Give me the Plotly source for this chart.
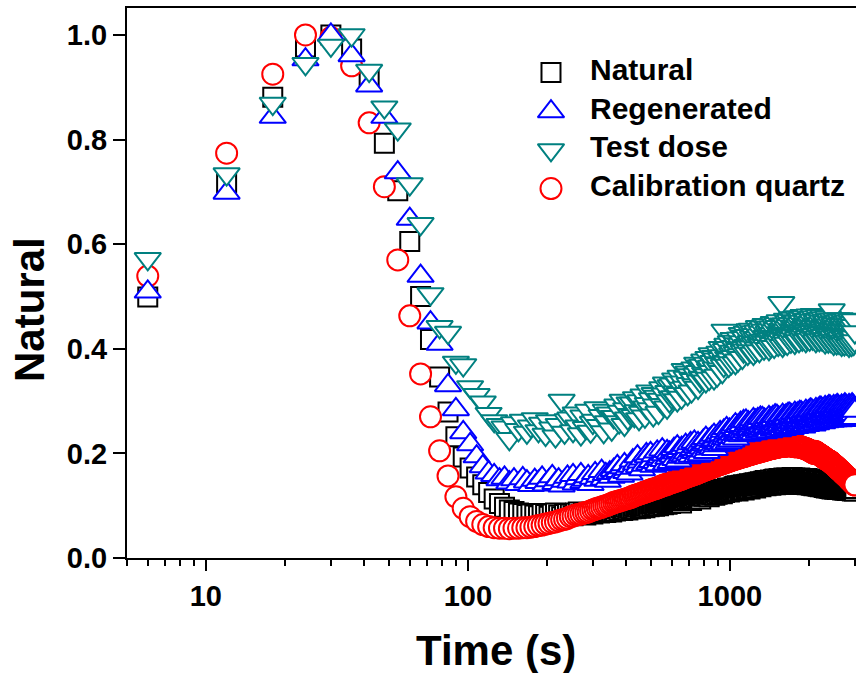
import plotly.graph_objects as go

# Normalised luminescence decay curves, one channel every 6 s
CHANNEL_S = 6

natural = [
    0.499, 0.718, 0.881, 0.977, 1.000, 0.973, 0.916, 0.793, 0.702, 0.605,
    0.500, 0.418, 0.346, 0.279, 0.232, 0.193, 0.172, 0.155, 0.140, 0.125,
    0.113, 0.104, 0.097, 0.092, 0.089, 0.086, 0.085, 0.083, 0.084, 0.082,
    0.081, 0.085, 0.083, 0.080, 0.084, 0.086, 0.082, 0.079, 0.083, 0.085,
    0.084, 0.081, 0.086, 0.088, 0.083, 0.085, 0.082, 0.087, 0.086, 0.084,
    0.088, 0.091, 0.086, 0.089, 0.092, 0.087, 0.090, 0.093, 0.088, 0.091,
    0.090, 0.094, 0.092, 0.096, 0.091, 0.093, 0.097, 0.092, 0.095, 0.094,
    0.096, 0.099, 0.094, 0.098, 0.101, 0.095, 0.097, 0.100, 0.096, 0.099,
    0.102, 0.098, 0.103, 0.100, 0.104, 0.099, 0.102, 0.105, 0.100, 0.103,
    0.104, 0.107, 0.102, 0.106, 0.109, 0.103, 0.105, 0.108, 0.104, 0.107,
    0.108, 0.111, 0.106, 0.110, 0.113, 0.107, 0.109, 0.112, 0.105, 0.110,
    0.114, 0.110, 0.115, 0.112, 0.117, 0.111, 0.113, 0.116, 0.110, 0.114,
    0.118, 0.114, 0.119, 0.116, 0.121, 0.115, 0.117, 0.120, 0.113, 0.118,
    0.120, 0.124, 0.118, 0.122, 0.125, 0.119, 0.121, 0.126, 0.117, 0.122,
    0.125, 0.121, 0.127, 0.123, 0.128, 0.120, 0.124, 0.127, 0.122, 0.126,
    0.128, 0.124, 0.130, 0.126, 0.131, 0.123, 0.127, 0.130, 0.125, 0.129,
    0.131, 0.127, 0.133, 0.129, 0.134, 0.126, 0.130, 0.133, 0.128, 0.132,
    0.134, 0.129, 0.136, 0.131, 0.137, 0.130, 0.133, 0.138, 0.128, 0.134,
    0.136, 0.131, 0.138, 0.133, 0.139, 0.132, 0.135, 0.140, 0.130, 0.136,
    0.138, 0.133, 0.140, 0.135, 0.141, 0.134, 0.137, 0.142, 0.132, 0.138,
    0.140, 0.135, 0.142, 0.137, 0.143, 0.136, 0.139, 0.144, 0.134, 0.140,
    0.142, 0.137, 0.144, 0.139, 0.145, 0.138, 0.141, 0.146, 0.136, 0.142,
    0.144, 0.139, 0.146, 0.141, 0.147, 0.140, 0.143, 0.148, 0.138, 0.144,
    0.145, 0.140, 0.147, 0.142, 0.148, 0.141, 0.144, 0.149, 0.139, 0.145,
    0.146, 0.141, 0.148, 0.143, 0.150, 0.142, 0.145, 0.151, 0.140, 0.146,
    0.147, 0.142, 0.149, 0.144, 0.151, 0.143, 0.146, 0.152, 0.141, 0.147,
    0.148, 0.143, 0.150, 0.145, 0.152, 0.144, 0.147, 0.153, 0.142, 0.148,
    0.146, 0.150, 0.143, 0.148, 0.153, 0.145, 0.149, 0.142, 0.151, 0.147,
    0.148, 0.143, 0.151, 0.146, 0.152, 0.144, 0.147, 0.154, 0.141, 0.149,
    0.146, 0.150, 0.143, 0.148, 0.153, 0.144, 0.149, 0.142, 0.151, 0.147,
    0.148, 0.142, 0.150, 0.145, 0.152, 0.143, 0.147, 0.153, 0.141, 0.148,
    0.145, 0.149, 0.142, 0.147, 0.152, 0.143, 0.148, 0.141, 0.150, 0.146,
    0.147, 0.141, 0.149, 0.144, 0.151, 0.142, 0.146, 0.152, 0.140, 0.147,
    0.144, 0.148, 0.141, 0.146, 0.151, 0.142, 0.147, 0.140, 0.149, 0.145,
    0.145, 0.139, 0.147, 0.142, 0.149, 0.140, 0.144, 0.150, 0.138, 0.145,
    0.142, 0.146, 0.139, 0.144, 0.149, 0.140, 0.145, 0.138, 0.147, 0.143,
    0.143, 0.137, 0.145, 0.140, 0.147, 0.138, 0.142, 0.148, 0.136, 0.143,
    0.140, 0.144, 0.137, 0.142, 0.147, 0.138, 0.143, 0.136, 0.145, 0.141,
    0.141, 0.135, 0.143, 0.138, 0.145, 0.136, 0.140, 0.146, 0.134, 0.141,
    0.138, 0.142, 0.135, 0.140, 0.145, 0.136, 0.141, 0.134, 0.143, 0.139,
    0.139, 0.133, 0.141, 0.136, 0.143, 0.134, 0.138, 0.144, 0.132, 0.139,
    0.136, 0.140, 0.133, 0.138, 0.143, 0.134, 0.139, 0.132, 0.141, 0.137,
    0.138, 0.132, 0.140, 0.135, 0.142, 0.133, 0.137, 0.143, 0.131, 0.138,
    0.135, 0.139, 0.132, 0.137, 0.142, 0.133, 0.138, 0.131, 0.140, 0.136,
    0.137, 0.131, 0.139, 0.134, 0.141, 0.132, 0.136, 0.142, 0.130, 0.137,
    0.134, 0.138, 0.131, 0.136, 0.141, 0.132, 0.137, 0.130, 0.139, 0.135,
    0.136, 0.130, 0.138, 0.133, 0.140, 0.131, 0.135, 0.141, 0.129, 0.136,
    0.133, 0.137, 0.130, 0.135, 0.140, 0.131, 0.136, 0.129, 0.138, 0.134,
    0.135, 0.129, 0.137, 0.132, 0.139, 0.130, 0.134, 0.140, 0.128, 0.135,
    0.132, 0.136, 0.129, 0.134, 0.139, 0.130, 0.135, 0.128, 0.137, 0.133,
]

regenerated = [
    0.509, 0.698, 0.843, 0.953, 1.000, 0.961, 0.903, 0.843, 0.737, 0.648,
    0.539, 0.450, 0.409, 0.330, 0.284, 0.240, 0.217, 0.194, 0.175, 0.163,
    0.158, 0.150, 0.153, 0.144, 0.150, 0.141, 0.152, 0.146, 0.139, 0.149,
    0.145, 0.153, 0.140, 0.148, 0.156, 0.143, 0.150, 0.138, 0.147, 0.155,
    0.146, 0.158, 0.142, 0.152, 0.160, 0.145, 0.149, 0.156, 0.141, 0.153,
    0.162, 0.149, 0.157, 0.166, 0.151, 0.160, 0.147, 0.163, 0.155, 0.168,
    0.162, 0.175, 0.166, 0.157, 0.173, 0.179, 0.164, 0.170, 0.161, 0.176,
    0.186, 0.172, 0.180, 0.194, 0.175, 0.184, 0.169, 0.190, 0.178, 0.198,
    0.194, 0.180, 0.200, 0.185, 0.176, 0.196, 0.183, 0.203, 0.179, 0.189,
    0.193, 0.207, 0.187, 0.198, 0.180, 0.204, 0.191, 0.201, 0.183, 0.197,
    0.195, 0.208, 0.189, 0.201, 0.213, 0.186, 0.204, 0.193, 0.210, 0.197,
    0.210, 0.196, 0.216, 0.201, 0.192, 0.212, 0.199, 0.219, 0.195, 0.205,
    0.208, 0.222, 0.202, 0.213, 0.195, 0.219, 0.206, 0.216, 0.198, 0.212,
    0.211, 0.224, 0.205, 0.217, 0.229, 0.202, 0.220, 0.209, 0.226, 0.213,
    0.217, 0.230, 0.211, 0.223, 0.235, 0.208, 0.226, 0.215, 0.232, 0.219,
    0.234, 0.220, 0.240, 0.225, 0.216, 0.236, 0.223, 0.243, 0.219, 0.229,
    0.234, 0.248, 0.228, 0.239, 0.221, 0.245, 0.232, 0.242, 0.224, 0.238,
    0.237, 0.250, 0.231, 0.243, 0.255, 0.228, 0.246, 0.235, 0.252, 0.239,
    0.252, 0.238, 0.258, 0.243, 0.234, 0.254, 0.241, 0.261, 0.237, 0.247,
    0.248, 0.262, 0.242, 0.253, 0.235, 0.259, 0.246, 0.256, 0.238, 0.252,
    0.247, 0.260, 0.241, 0.253, 0.265, 0.238, 0.256, 0.245, 0.262, 0.249,
    0.259, 0.245, 0.265, 0.250, 0.241, 0.261, 0.248, 0.268, 0.244, 0.254,
    0.253, 0.267, 0.247, 0.258, 0.240, 0.264, 0.251, 0.261, 0.243, 0.257,
    0.251, 0.264, 0.245, 0.257, 0.269, 0.242, 0.260, 0.249, 0.266, 0.253,
    0.263, 0.249, 0.269, 0.254, 0.245, 0.265, 0.252, 0.272, 0.248, 0.258,
    0.257, 0.271, 0.251, 0.262, 0.244, 0.268, 0.255, 0.265, 0.247, 0.261,
    0.255, 0.268, 0.249, 0.261, 0.273, 0.246, 0.264, 0.253, 0.270, 0.257,
    0.266, 0.252, 0.272, 0.257, 0.248, 0.268, 0.255, 0.275, 0.251, 0.261,
    0.261, 0.275, 0.255, 0.266, 0.248, 0.272, 0.259, 0.269, 0.251, 0.265,
    0.259, 0.272, 0.253, 0.265, 0.277, 0.250, 0.268, 0.257, 0.274, 0.261,
    0.270, 0.256, 0.276, 0.261, 0.252, 0.272, 0.259, 0.279, 0.255, 0.265,
    0.264, 0.278, 0.258, 0.269, 0.251, 0.275, 0.262, 0.272, 0.254, 0.268,
    0.263, 0.276, 0.257, 0.269, 0.281, 0.254, 0.272, 0.261, 0.278, 0.265,
    0.274, 0.260, 0.280, 0.265, 0.256, 0.276, 0.263, 0.283, 0.259, 0.269,
    0.268, 0.282, 0.262, 0.273, 0.255, 0.279, 0.266, 0.276, 0.258, 0.272,
    0.266, 0.279, 0.260, 0.272, 0.284, 0.257, 0.275, 0.264, 0.281, 0.268,
    0.278, 0.264, 0.284, 0.269, 0.260, 0.280, 0.267, 0.287, 0.263, 0.273,
    0.272, 0.286, 0.266, 0.277, 0.259, 0.283, 0.270, 0.280, 0.262, 0.276,
    0.270, 0.283, 0.264, 0.276, 0.288, 0.261, 0.279, 0.268, 0.285, 0.272,
    0.281, 0.267, 0.287, 0.272, 0.263, 0.283, 0.270, 0.290, 0.266, 0.276,
    0.275, 0.289, 0.269, 0.280, 0.262, 0.286, 0.273, 0.283, 0.265, 0.279,
    0.272, 0.285, 0.266, 0.278, 0.290, 0.263, 0.281, 0.270, 0.287, 0.274,
    0.283, 0.269, 0.289, 0.274, 0.265, 0.285, 0.272, 0.292, 0.268, 0.278,
    0.276, 0.290, 0.270, 0.281, 0.263, 0.287, 0.274, 0.284, 0.266, 0.280,
    0.273, 0.286, 0.267, 0.279, 0.291, 0.264, 0.282, 0.271, 0.288, 0.275,
    0.284, 0.270, 0.290, 0.275, 0.266, 0.286, 0.273, 0.293, 0.269, 0.279,
    0.277, 0.291, 0.271, 0.282, 0.264, 0.288, 0.275, 0.285, 0.267, 0.281,
    0.274, 0.287, 0.268, 0.280, 0.292, 0.265, 0.283, 0.272, 0.289, 0.276,
    0.284, 0.270, 0.290, 0.275, 0.266, 0.286, 0.273, 0.293, 0.269, 0.279,
    0.277, 0.291, 0.271, 0.282, 0.264, 0.288, 0.275, 0.285, 0.267, 0.281,
]

test_dose = [
    0.572, 0.734, 0.869, 0.945, 0.980, 1.000, 0.932, 0.862, 0.820, 0.715,
    0.639, 0.505, 0.442, 0.431, 0.374, 0.369, 0.327, 0.312, 0.298, 0.276,
    0.262, 0.255, 0.250, 0.228, 0.258, 0.245, 0.263, 0.240, 0.252, 0.266,
    0.243, 0.257, 0.236, 0.262, 0.248, 0.233, 0.255, 0.301, 0.240, 0.264,
    0.267, 0.243, 0.277, 0.252, 0.237, 0.271, 0.249, 0.282, 0.242, 0.259,
    0.263, 0.287, 0.253, 0.272, 0.241, 0.282, 0.260, 0.277, 0.246, 0.270,
    0.270, 0.292, 0.260, 0.280, 0.301, 0.255, 0.285, 0.267, 0.296, 0.274,
    0.296, 0.272, 0.306, 0.281, 0.266, 0.300, 0.278, 0.311, 0.271, 0.288,
    0.295, 0.319, 0.285, 0.304, 0.273, 0.314, 0.292, 0.309, 0.278, 0.302,
    0.303, 0.325, 0.293, 0.313, 0.334, 0.288, 0.318, 0.300, 0.329, 0.307,
    0.332, 0.308, 0.342, 0.317, 0.302, 0.336, 0.314, 0.347, 0.307, 0.324,
    0.336, 0.360, 0.326, 0.345, 0.314, 0.355, 0.333, 0.350, 0.319, 0.343,
    0.341, 0.363, 0.331, 0.351, 0.372, 0.326, 0.356, 0.338, 0.367, 0.345,
    0.368, 0.344, 0.378, 0.353, 0.338, 0.372, 0.350, 0.383, 0.343, 0.360,
    0.366, 0.390, 0.356, 0.375, 0.344, 0.385, 0.363, 0.380, 0.349, 0.373,
    0.371, 0.393, 0.361, 0.381, 0.402, 0.356, 0.386, 0.368, 0.435, 0.375,
    0.398, 0.374, 0.408, 0.383, 0.368, 0.402, 0.380, 0.413, 0.373, 0.390,
    0.395, 0.419, 0.385, 0.404, 0.373, 0.414, 0.392, 0.409, 0.378, 0.402,
    0.398, 0.420, 0.388, 0.408, 0.429, 0.383, 0.413, 0.395, 0.424, 0.402,
    0.421, 0.397, 0.431, 0.406, 0.391, 0.425, 0.403, 0.436, 0.396, 0.413,
    0.413, 0.437, 0.403, 0.422, 0.391, 0.432, 0.410, 0.427, 0.396, 0.420,
    0.411, 0.433, 0.401, 0.421, 0.442, 0.396, 0.426, 0.408, 0.437, 0.415,
    0.431, 0.407, 0.441, 0.416, 0.401, 0.435, 0.413, 0.446, 0.406, 0.423,
    0.422, 0.446, 0.412, 0.431, 0.400, 0.441, 0.419, 0.436, 0.405, 0.429,
    0.419, 0.441, 0.409, 0.429, 0.450, 0.404, 0.434, 0.416, 0.445, 0.423,
    0.438, 0.414, 0.448, 0.423, 0.408, 0.442, 0.420, 0.453, 0.413, 0.430,
    0.428, 0.488, 0.418, 0.437, 0.406, 0.447, 0.425, 0.442, 0.411, 0.435,
    0.425, 0.447, 0.415, 0.435, 0.456, 0.410, 0.440, 0.422, 0.451, 0.429,
    0.444, 0.420, 0.454, 0.429, 0.414, 0.448, 0.426, 0.459, 0.419, 0.436,
    0.434, 0.458, 0.424, 0.443, 0.412, 0.453, 0.431, 0.448, 0.417, 0.441,
    0.430, 0.452, 0.420, 0.440, 0.461, 0.415, 0.445, 0.427, 0.456, 0.434,
    0.448, 0.424, 0.458, 0.433, 0.418, 0.452, 0.430, 0.463, 0.423, 0.440,
    0.437, 0.461, 0.427, 0.446, 0.415, 0.456, 0.434, 0.451, 0.420, 0.444,
    0.433, 0.455, 0.423, 0.443, 0.464, 0.418, 0.448, 0.430, 0.459, 0.437,
    0.450, 0.426, 0.460, 0.435, 0.420, 0.454, 0.432, 0.465, 0.425, 0.442,
    0.437, 0.461, 0.427, 0.446, 0.415, 0.456, 0.434, 0.451, 0.420, 0.444,
    0.432, 0.454, 0.422, 0.442, 0.463, 0.417, 0.447, 0.429, 0.458, 0.436,
    0.448, 0.424, 0.458, 0.433, 0.418, 0.452, 0.430, 0.463, 0.423, 0.440,
    0.435, 0.459, 0.425, 0.444, 0.413, 0.454, 0.432, 0.449, 0.418, 0.442,
    0.429, 0.451, 0.419, 0.439, 0.460, 0.414, 0.444, 0.426, 0.455, 0.433,
    0.445, 0.421, 0.455, 0.430, 0.415, 0.449, 0.427, 0.474, 0.420, 0.437,
    0.432, 0.456, 0.422, 0.441, 0.410, 0.451, 0.429, 0.446, 0.415, 0.439,
    0.426, 0.448, 0.416, 0.436, 0.457, 0.411, 0.441, 0.423, 0.452, 0.430,
    0.442, 0.418, 0.452, 0.427, 0.412, 0.446, 0.424, 0.457, 0.417, 0.434,
    0.430, 0.454, 0.420, 0.439, 0.408, 0.449, 0.427, 0.444, 0.413, 0.437,
    0.424, 0.446, 0.414, 0.434, 0.455, 0.409, 0.439, 0.421, 0.450, 0.428,
    0.441, 0.417, 0.451, 0.426, 0.411, 0.445, 0.423, 0.456, 0.416, 0.433,
    0.428, 0.452, 0.418, 0.437, 0.406, 0.447, 0.425, 0.442, 0.411, 0.435,
    0.423, 0.445, 0.413, 0.433, 0.454, 0.408, 0.438, 0.420, 0.449, 0.427,
    0.440, 0.416, 0.450, 0.425, 0.410, 0.444, 0.422, 0.455, 0.415, 0.432,
]

calibration_quartz = [
    0.539, 0.774, 0.925, 1.000, 0.995, 0.941, 0.832, 0.710, 0.570, 0.463,
    0.352, 0.270, 0.205, 0.157, 0.117, 0.095, 0.079, 0.070, 0.064, 0.060,
    0.058, 0.057, 0.057, 0.056, 0.057, 0.057, 0.058, 0.058, 0.059, 0.060,
    0.062, 0.063, 0.065, 0.066, 0.068, 0.069, 0.071, 0.073, 0.074, 0.076,
    0.079, 0.080, 0.082, 0.083, 0.084, 0.086, 0.087, 0.088, 0.090, 0.092,
    0.093, 0.095, 0.096, 0.097, 0.099, 0.100, 0.101, 0.103, 0.104, 0.106,
    0.107, 0.108, 0.109, 0.110, 0.111, 0.112, 0.113, 0.114, 0.115, 0.116,
    0.118, 0.119, 0.120, 0.121, 0.122, 0.123, 0.124, 0.125, 0.126, 0.127,
    0.128, 0.129, 0.130, 0.131, 0.132, 0.132, 0.133, 0.134, 0.135, 0.136,
    0.137, 0.138, 0.139, 0.140, 0.140, 0.141, 0.142, 0.143, 0.144, 0.144,
    0.145, 0.146, 0.147, 0.147, 0.148, 0.149, 0.150, 0.150, 0.151, 0.152,
    0.153, 0.153, 0.154, 0.155, 0.156, 0.156, 0.157, 0.158, 0.158, 0.159,
    0.160, 0.160, 0.161, 0.162, 0.162, 0.163, 0.164, 0.164, 0.165, 0.166,
    0.167, 0.167, 0.168, 0.168, 0.169, 0.170, 0.170, 0.171, 0.171, 0.172,
    0.173, 0.173, 0.174, 0.174, 0.175, 0.175, 0.176, 0.177, 0.177, 0.178,
    0.178, 0.179, 0.179, 0.180, 0.180, 0.181, 0.181, 0.182, 0.182, 0.183,
    0.183, 0.184, 0.184, 0.185, 0.185, 0.185, 0.186, 0.186, 0.187, 0.187,
    0.188, 0.188, 0.189, 0.189, 0.189, 0.190, 0.190, 0.191, 0.191, 0.191,
    0.192, 0.192, 0.193, 0.193, 0.193, 0.194, 0.194, 0.194, 0.195, 0.195,
    0.195, 0.196, 0.196, 0.196, 0.197, 0.197, 0.197, 0.198, 0.198, 0.198,
    0.199, 0.199, 0.199, 0.200, 0.200, 0.200, 0.201, 0.201, 0.201, 0.202,
    0.202, 0.202, 0.202, 0.203, 0.203, 0.203, 0.204, 0.204, 0.204, 0.204,
    0.205, 0.205, 0.205, 0.206, 0.206, 0.206, 0.206, 0.207, 0.207, 0.207,
    0.207, 0.208, 0.208, 0.208, 0.208, 0.209, 0.209, 0.209, 0.209, 0.210,
    0.210, 0.210, 0.210, 0.210, 0.211, 0.211, 0.211, 0.211, 0.211, 0.212,
    0.212, 0.212, 0.212, 0.212, 0.212, 0.213, 0.213, 0.213, 0.213, 0.213,
    0.213, 0.213, 0.214, 0.214, 0.214, 0.214, 0.214, 0.214, 0.214, 0.214,
    0.214, 0.214, 0.214, 0.215, 0.215, 0.215, 0.215, 0.215, 0.215, 0.215,
    0.215, 0.215, 0.215, 0.215, 0.215, 0.215, 0.214, 0.214, 0.214, 0.214,
    0.214, 0.214, 0.214, 0.214, 0.213, 0.213, 0.213, 0.213, 0.213, 0.212,
    0.214, 0.214, 0.214, 0.213, 0.213, 0.213, 0.213, 0.213, 0.212, 0.212,
    0.212, 0.212, 0.212, 0.211, 0.211, 0.211, 0.211, 0.210, 0.210, 0.210,
    0.210, 0.210, 0.209, 0.209, 0.209, 0.209, 0.208, 0.208, 0.208, 0.207,
    0.207, 0.207, 0.206, 0.206, 0.206, 0.205, 0.205, 0.205, 0.204, 0.204,
    0.204, 0.203, 0.203, 0.202, 0.202, 0.202, 0.201, 0.201, 0.200, 0.200,
    0.204, 0.203, 0.203, 0.203, 0.202, 0.202, 0.202, 0.201, 0.201, 0.200,
    0.200, 0.200, 0.199, 0.199, 0.198, 0.198, 0.198, 0.197, 0.197, 0.196,
    0.196, 0.196, 0.195, 0.195, 0.194, 0.194, 0.194, 0.193, 0.193, 0.192,
    0.192, 0.192, 0.191, 0.191, 0.190, 0.190, 0.190, 0.189, 0.189, 0.188,
    0.188, 0.188, 0.187, 0.187, 0.187, 0.186, 0.186, 0.186, 0.185, 0.185,
    0.185, 0.185, 0.184, 0.184, 0.183, 0.183, 0.182, 0.182, 0.181, 0.181,
    0.180, 0.180, 0.179, 0.179, 0.179, 0.178, 0.178, 0.177, 0.177, 0.176,
    0.176, 0.175, 0.175, 0.174, 0.174, 0.173, 0.173, 0.173, 0.172, 0.172,
    0.171, 0.171, 0.170, 0.170, 0.169, 0.169, 0.168, 0.168, 0.167, 0.167,
    0.167, 0.166, 0.166, 0.165, 0.165, 0.164, 0.164, 0.163, 0.163, 0.162,
    0.162, 0.161, 0.161, 0.161, 0.160, 0.160, 0.159, 0.159, 0.158, 0.158,
    0.157, 0.157, 0.156, 0.156, 0.155, 0.155, 0.155, 0.154, 0.154, 0.153,
    0.153, 0.152, 0.152, 0.151, 0.151, 0.150, 0.150, 0.149, 0.149, 0.149,
    0.148, 0.148, 0.147, 0.147, 0.146, 0.146, 0.145, 0.145, 0.144, 0.144,
    0.143, 0.143, 0.142, 0.142, 0.142, 0.141, 0.141, 0.140, 0.140, 0.140,
]

time_s = [CHANNEL_S * (i + 1) for i in range(len(natural))]

# name, values, symbol, colour, marker size; listed in drawing order
series = [
    ("Natural", natural, "square", "#000000", 19),
    ("Calibration quartz", calibration_quartz, "circle", "#FF0000", 21),
    ("Regenerated", regenerated, "triangle-up", "#0000FF", 23),
    ("Test dose", test_dose, "triangle-down", "#008080", 23),
]
legend_order = ["Natural", "Regenerated", "Test dose", "Calibration quartz"]

FONT = "Liberation Sans, Arial, Helvetica, sans-serif"

fig = go.Figure()
for name, vals, sym, col, size in series:
    fig.add_trace(go.Scatter(
        x=time_s, y=vals, mode="markers", name=name, showlegend=False,
        marker=dict(symbol=sym, size=size, color="white",
                    line=dict(color=col, width=2)),
    ))

# legend keys on an overlay axis that spans the plot area (0..1)
style = {n: (s, c, z) for n, _, s, c, z in series}
key_x = 0.5816
key_y = [0.8827, 0.8116, 0.7420, 0.6718]
text_y = [0.8880, 0.8170, 0.7475, 0.6775]
for i, name in enumerate(legend_order):
    sym, col, size = style[name]
    fig.add_trace(go.Scatter(
        x=[key_x], y=[key_y[i]], xaxis="x2", yaxis="y2", mode="markers",
        showlegend=False, cliponaxis=False, hoverinfo="skip",
        marker=dict(symbol=sym, size=size, color="white",
                    line=dict(color=col, width=2)),
    ))
    fig.add_annotation(
        x=0.6325, y=text_y[i], xref="paper", yref="paper", text=name,
        showarrow=False, xanchor="left", yanchor="middle",
        font=dict(family=FONT, size=30, color="black", weight="bold"),
    )

# axis titles
fig.add_annotation(
    x=0.5055, y=-0.1673, xref="paper", yref="paper", text="Time (s)",
    showarrow=False, xanchor="center", yanchor="middle",
    font=dict(family=FONT, size=42, color="black", weight="bold"),
)
fig.add_annotation(
    x=-0.1344, y=0.4509, xref="paper", yref="paper", text="Natural",
    showarrow=False, textangle=-90, xanchor="center", yanchor="middle",
    font=dict(family=FONT, size=42, color="black", weight="bold"),
)

minor_vals = [5, 6, 7, 8, 9, 20, 30, 40, 50, 60, 70, 80, 90,
              200, 300, 400, 500, 600, 700, 800, 900, 2000, 3000]

fig.update_layout(
    width=856, height=673,
    margin=dict(l=127, r=0, t=8, b=115),
    paper_bgcolor="white", plot_bgcolor="white",
    showlegend=False,
    xaxis=dict(
        type="log", range=[0.69897, 3.4814],
        tickmode="array", tickvals=[10, 100, 1000], ticktext=["10", "100", "1000"],
        ticks="outside", ticklen=11, tickwidth=2, tickcolor="black",
        minor=dict(tickmode="array", tickvals=minor_vals, ticks="outside",
                   ticklen=6, tickwidth=2, tickcolor="black", showgrid=False),
        showline=True, linecolor="black", linewidth=2, mirror=True,
        showgrid=False, zeroline=False,
        tickfont=dict(family=FONT, size=29, color="black", weight="bold"),
    ),
    yaxis=dict(
        range=[0, 1.0516],
        tickmode="array", tickvals=[0, 0.2, 0.4, 0.6, 0.8, 1.0],
        tickformat=".1f",
        ticks="outside", ticklen=12, tickwidth=2, tickcolor="black",
        showline=True, linecolor="black", linewidth=2, mirror=False,
        showgrid=False, zeroline=False,
        tickfont=dict(family=FONT, size=29, color="black", weight="bold"),
    ),
    xaxis2=dict(domain=[0, 1], range=[0, 1], overlaying="x", anchor="y2",
                visible=False, fixedrange=True),
    yaxis2=dict(domain=[0, 1], range=[0, 1], overlaying="y", anchor="x2",
                visible=False, fixedrange=True),
)

fig.write_html("out.html")
